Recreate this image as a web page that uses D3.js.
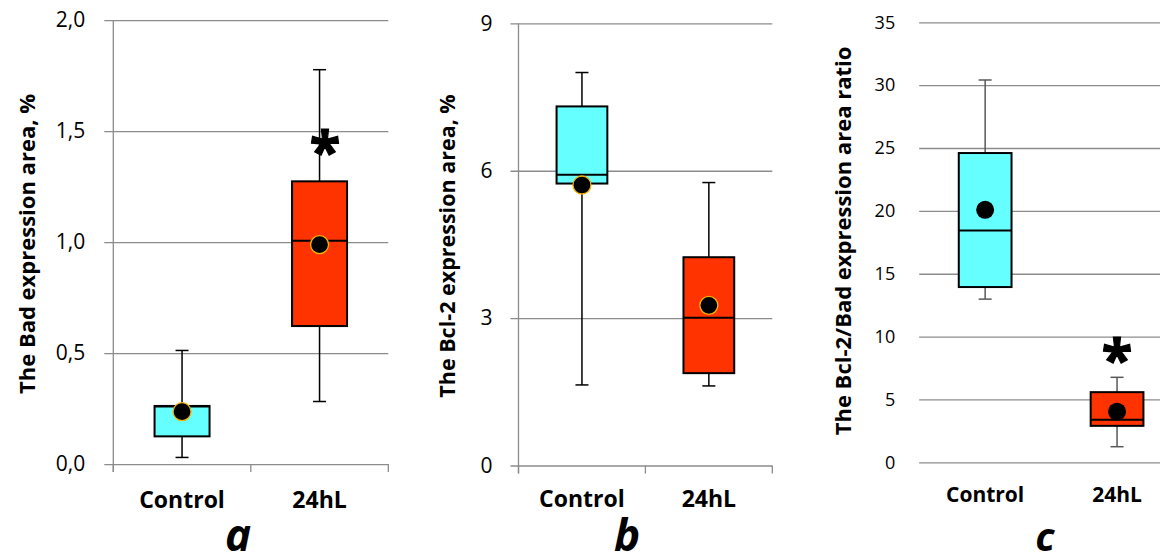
<!DOCTYPE html>
<html lang="en">
	<head>
		<meta charset="utf-8">
		<title>Bad / Bcl-2 expression</title>
		<script src="https://d3js.org/d3.v7.min.js"></script>
		<style type="text/css">
			body, html {
				margin: 0;
				padding: 0;
				background: #ffffff;
			}
			svg text {
				font-family: "Open Sans", sans-serif;
			}
		</style>
	</head>
	<body>
		<div id="chart"></div>
		<script type="text/javascript">

		var categories = ["Control", "24hL"]

		// min, q1, median, q3, max, mean
		var badStats = [
			{min: 0.03, q1: 0.125, median: 0.26, q3: 0.262, max: 0.512, mean: 0.236},
			{min: 0.282, q1: 0.622, median: 1.006, q3: 1.274, max: 1.777, mean: 0.989}
		]
		var bcl2Stats = [
			{min: 1.64, q1: 5.74, median: 5.92, q3: 7.31, max: 8.0, mean: 5.71},
			{min: 1.62, q1: 1.88, median: 3.01, q3: 4.24, max: 5.76, mean: 3.26}
		]
		var ratioStats = [
			{min: 12.98, q1: 13.94, median: 18.44, q3: 24.6, max: 30.41, mean: 20.08},
			{min: 1.24, q1: 2.9, median: 3.38, q3: 5.58, max: 6.76, mean: 4.03}
		]

		var badTicks = [0, 0.5, 1.0, 1.5, 2.0]
		var bcl2Ticks = [0, 3, 6, 9]
		var ratioTicks = [0, 5, 10, 15, 20, 25, 30, 35]

		var boxColors = ["#66ffff", "#ff3300"]

		var svg = d3.select("#chart").append("svg")
			.attr("width", 1160)
			.attr("height", 555)

		var commaFormat = function (d) {
			return d3.format(".1f")(d).replace(".", ",")
		}

		var drawPanel = function (p) {
			var x = d3.scaleBand()
				.domain(categories)
				.range([p.left, p.right])
			var y = d3.scaleLinear()
				.domain(p.domain)
				.range([p.bottom, p.top])

			var g = svg.append("g")

			// grid + y labels
			var yAxis = g.append("g")
				.attr("transform", "translate(" + (p.left - p.tickOut) + ",0)")
				.call(d3.axisLeft(y)
					.tickValues(p.ticks)
					.tickFormat(p.format)
					.tickSize(-(Math.min(p.right, 1160) - p.left + p.tickOut))
					.tickPadding(p.labelPad))
			yAxis.select(".domain").remove()
			yAxis.selectAll("line")
				.attr("stroke", "#8c8c8c")
				.attr("stroke-width", 1.3)
			yAxis.selectAll("text")
				.attr("font-size", p.tickFont)
				.attr("fill", "#000")
				.attr("font-family", "Open Sans")

			if (p.axisLine) {
				g.append("line")
					.attr("x1", p.left).attr("x2", p.left)
					.attr("y1", y(p.domain[1])).attr("y2", p.bottom + 8)
					.attr("stroke", "#8c8c8c")
					.attr("stroke-width", 1.3)
				var edges = [p.left].concat(categories.map(c => x(c) + x.bandwidth()))
				g.selectAll("line.xtick")
					.data(edges)
					.enter().append("line")
					.attr("class", "xtick")
					.attr("x1", d => d).attr("x2", d => d)
					.attr("y1", p.bottom).attr("y2", p.bottom + 8)
					.attr("stroke", "#8c8c8c")
					.attr("stroke-width", 1.3)
			}

			// category labels
			g.selectAll("text.cat")
				.data(categories)
				.enter().append("text")
				.attr("class", "cat")
				.attr("x", d => x(d) + x.bandwidth() / 2)
				.attr("y", p.catY)
				.attr("text-anchor", "middle")
				.attr("font-weight", "bold")
				.attr("font-size", p.catFont)
				.text(d => d)

			var bw = x.bandwidth() * 0.4
			var boxes = g.selectAll("g.box")
				.data(p.stats)
				.enter().append("g")
				.attr("class", "box")
				.attr("transform", (d, i) => "translate(" + (x(categories[i]) + x.bandwidth() / 2) + ",0)")

			// whiskers
			boxes.append("line")
				.attr("x1", 0).attr("x2", 0)
				.attr("y1", d => y(d.max)).attr("y2", d => y(d.min))
				.attr("stroke", p.whiskerColor)
				.attr("stroke-width", 1.5)
			boxes.selectAll("line.cap")
				.data(d => [d.min, d.max])
				.enter().append("line")
				.attr("class", "cap")
				.attr("x1", -6.5).attr("x2", 6.5)
				.attr("y1", d => y(d)).attr("y2", d => y(d))
				.attr("stroke", p.whiskerColor)
				.attr("stroke-width", 1.5)

			boxes.append("rect")
				.attr("x", -bw / 2)
				.attr("width", bw)
				.attr("y", d => y(d.q3))
				.attr("height", d => y(d.q1) - y(d.q3))
				.attr("fill", (d, i) => boxColors[i])
				.attr("stroke", "#000")
				.attr("stroke-width", 2)

			boxes.append("line")
				.attr("x1", -bw / 2).attr("x2", bw / 2)
				.attr("y1", d => y(d.median)).attr("y2", d => y(d.median))
				.attr("stroke", "#000")
				.attr("stroke-width", 2)

			boxes.append("circle")
				.attr("cx", 0)
				.attr("cy", d => y(d.mean))
				.attr("r", 9)
				.attr("fill", "#000")
				.attr("stroke", p.meanStroke)
				.attr("stroke-width", p.meanStroke === "none" ? 0 : 1.3)

			// y title
			g.append("text")
				.text(p.title)
				.attr("text-anchor", "middle")
				.attr("font-weight", "bold")
				.attr("font-size", p.titleFont)
				.attr("transform", "translate(" + p.titleX + "," + p.titleY + ") rotate(-90)")

			// panel letter
			g.append("text")
				.text(p.letter)
				.attr("x", p.letterX)
				.attr("y", 551)
				.attr("text-anchor", "middle")
				.attr("font-weight", "bold")
				.attr("font-style", "italic")
				.attr("font-size", p.letterFont)

			if (p.star) {
				g.append("text")
					.text("*")
					.attr("x", p.star[0])
					.attr("y", p.star[1])
					.attr("text-anchor", "middle")
					.attr("font-weight", "bold")
					.attr("font-family", "DejaVu Sans")
					.attr("font-size", 56)
					.attr("stroke", "#000")
					.attr("stroke-width", 1.2)
			}
		}

		drawPanel({
			stats: badStats, ticks: badTicks, domain: [0, 2], format: commaFormat,
			left: 113.3, right: 388.3, top: 20.2, bottom: 464.1,
			tickOut: 9, labelPad: 19, tickFont: 21, axisLine: true,
			catY: 508, catFont: 23, whiskerColor: "#000", meanStroke: "#f5b400",
			title: "The Bad expression area, %", titleX: 35, titleY: 244, titleFont: 22,
			letter: "a", letterX: 238, letterFont: 44, star: [325, 171]
		})

		drawPanel({
			stats: bcl2Stats, ticks: bcl2Ticks, domain: [0, 9], format: d3.format("d"),
			left: 518.5, right: 772.3, top: 23.4, bottom: 465.5,
			tickOut: 8, labelPad: 18, tickFont: 21, axisLine: true,
			catY: 507, catFont: 23, whiskerColor: "#000", meanStroke: "#f5b400",
			title: "The Bcl-2 expression area, %", titleX: 455, titleY: 246, titleFont: 21.5,
			letter: "b", letterX: 627, letterFont: 44, star: null
		})

		drawPanel({
			stats: ratioStats, ticks: ratioTicks, domain: [0, 35], format: d3.format("d"),
			left: 919.2, right: 1183, top: 22.3, bottom: 462.3,
			tickOut: 0, labelPad: 24, tickFont: 18, axisLine: false,
			catY: 502, catFont: 21, whiskerColor: "#595959", meanStroke: "none",
			title: "The Bcl-2/Bad expression area ratio", titleX: 851, titleY: 241, titleFont: 22,
			letter: "c", letterX: 1045, letterFont: 40, star: [1117, 379]
		})

		</script>
	</body>
</html>
